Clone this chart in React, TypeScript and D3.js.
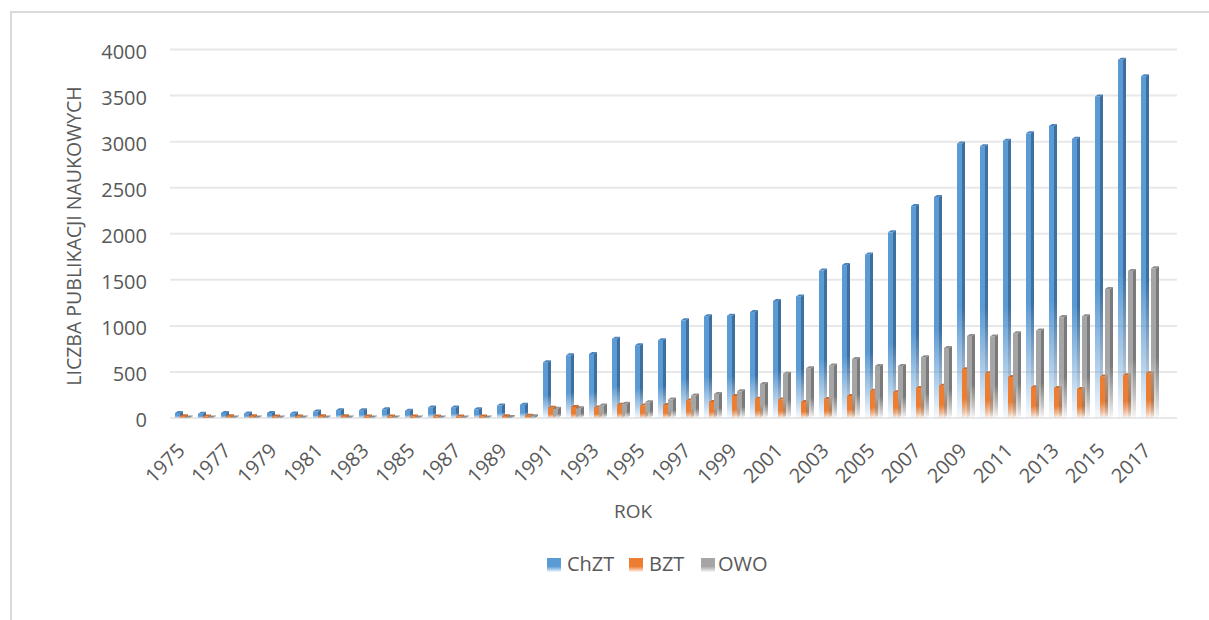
import React from "react";
import * as d3 from "d3";

const years: number[] = [
  1975, 1976, 1977, 1978, 1979, 1980, 1981, 1982, 1983, 1984, 1985, 1986, 1987, 1988, 1989, 1990,
  1991, 1992, 1993, 1994, 1995, 1996, 1997, 1998, 1999, 2000, 2001, 2002, 2003, 2004, 2005, 2006,
  2007, 2008, 2009, 2010, 2011, 2012, 2013, 2014, 2015, 2016, 2017,
];

const chzt: number[] = [
  55, 45, 55, 50, 55, 50, 70, 85, 85, 95, 80, 115, 115, 95, 135, 145,
  605, 680, 695, 860, 790, 845, 1060, 1105, 1110, 1150, 1270, 1320, 1600, 1660, 1775, 2015,
  2300, 2400, 2980, 2950, 3010, 3090, 3170, 3030, 3490, 3890, 3710,
];

const bzt: number[] = [
  20, 15, 20, 20, 15, 15, 20, 20, 15, 15, 15, 15, 15, 15, 20, 25,
  110, 120, 115, 145, 135, 140, 190, 175, 240, 210, 200, 175, 205, 240, 295, 280,
  325, 350, 530, 485, 445, 335, 325, 315, 450, 465, 485,
];

const owo: number[] = [
  5, 5, 5, 5, 5, 5, 5, 5, 5, 5, 5, 5, 5, 5, 10, 20,
  100, 105, 135, 155, 170, 200, 245, 260, 290, 370, 480, 540, 570, 640, 565, 565,
  660, 760, 890, 885, 920, 950, 1095, 1105, 1400, 1595, 1625,
];

const yTicks: number[] = [0, 500, 1000, 1500, 2000, 2500, 3000, 3500, 4000];
const seriesNames: string[] = ["ChZT", "BZT", "OWO"];

const seriesStyle = [
  { id: "gBlue", front: "#5b9bd5", side: "#3f6f9e", top: "#4a84bd" },
  { id: "gOrange", front: "#ed7d31", side: "#b35d22", top: "#d06a28" },
  { id: "gGray", front: "#a5a5a5", side: "#7a7a7a", top: "#8e8e8e" },
];

const W = 1209;
const H = 620;
const FONT = "'Open Sans', 'Noto Sans', sans-serif";
const TXT = "#595959";

export default function App() {
  const x = d3
    .scaleBand<number>()
    .domain(years)
    .range([171, 171 + years.length * 23])
    .paddingInner(0)
    .paddingOuter(0);
  const y = d3.scaleLinear().domain([0, 4000]).range([418, 49.5]);

  const data = [chzt, bzt, owo];
  const fw = 5; // front width
  const dx = 3; // depth x
  const dy = 2; // depth y

  const bars: React.ReactNode[] = [];
  years.forEach((yr, i) => {
    data.forEach((arr, s) => {
      const v = arr[i];
      const st = seriesStyle[s];
      const x0 = (x(yr) as number) + 4 + s * 5;
      const yt = y(v);
      const yb = y(0);
      bars.push(
        <g key={`${yr}-${s}`}>
          <polygon
            points={`${x0 + fw},${yt} ${x0 + fw + dx},${yt - dy} ${x0 + fw + dx},${yb - dy} ${x0 + fw},${yb}`}
            fill={`url(#${st.id}S)`}
          />
          <rect x={x0} y={yt} width={fw} height={yb - yt} fill={`url(#${st.id}F)`} />
          <polygon
            points={`${x0},${yt} ${x0 + dx},${yt - dy} ${x0 + fw + dx},${yt - dy} ${x0 + fw},${yt}`}
            fill={st.top}
          />
        </g>
      );
    });
  });

  const grad = (id: string, color: string) => (
    <linearGradient id={id} x1="0" y1="0" x2="0" y2="1">
      <stop offset="0" stopColor={color} stopOpacity={1} />
      <stop offset="0.6" stopColor={color} stopOpacity={1} />
      <stop offset="0.85" stopColor={color} stopOpacity={0.45} />
      <stop offset="1" stopColor={color} stopOpacity={0.05} />
    </linearGradient>
  );

  const legendItems = [
    { sx: 547, tx: 567 },
    { sx: 629, tx: 649 },
    { sx: 701, tx: 718 },
  ];

  return (
    <svg
      width={W}
      height={H}
      style={{ position: "absolute", left: 0, top: 0, background: "#fff" }}
      fontFamily={FONT}
    >
      <defs>
        {seriesStyle.map((st) => (
          <React.Fragment key={st.id}>
            {grad(st.id + "F", st.front)}
            {grad(st.id + "S", st.side)}
          </React.Fragment>
        ))}
      </defs>
      <rect x={0} y={0} width={W} height={H} fill="#fff" />
      <rect x={11} y={12} width={1400} height={800} fill="none" stroke="#d9d9d9" strokeWidth={2} />

      {/* gridlines */}
      {yTicks.map((t) => (
        <line key={t} x1={170} x2={1177} y1={y(t)} y2={y(t)} stroke="#e8e8e8" strokeWidth={2} />
      ))}

      {/* y tick labels */}
      {yTicks.map((t) => (
        <text
          key={t}
          x={147}
          y={y(t) + 4}
          textAnchor="end"
          dominantBaseline="middle"
          fontSize={20}
          fill={TXT}
        >
          {t}
        </text>
      ))}

      {bars}

      {/* x labels */}
      {years.map((yr, i) =>
        i % 2 === 0 ? (
          <text
            key={yr}
            transform={`translate(${(x(yr) as number) + 15},${452}) rotate(-45)`}
            textAnchor="end"
            fontSize={20}
            fill={TXT}
          >
            {yr}
          </text>
        ) : null
      )}

      {/* axis titles */}
      <text
        transform={`translate(81,236) rotate(-90)`}
        textAnchor="middle"
        fontSize={19.5}
        fill={TXT}
      >
        LICZBA PUBLIKACJI NAUKOWYCH
      </text>
      <text x={633} y={518} textAnchor="middle" fontSize={19} fill={TXT}>
        ROK
      </text>

      {/* legend */}
      {legendItems.map((li, s) => (
        <g key={s}>
          <rect x={li.sx} y={558} width={14} height={14} fill={`url(#${seriesStyle[s].id}F)`} />
          <text x={li.tx} y={571} fontSize={20} fill={TXT}>
            {seriesNames[s]}
          </text>
        </g>
      ))}
    </svg>
  );
}
